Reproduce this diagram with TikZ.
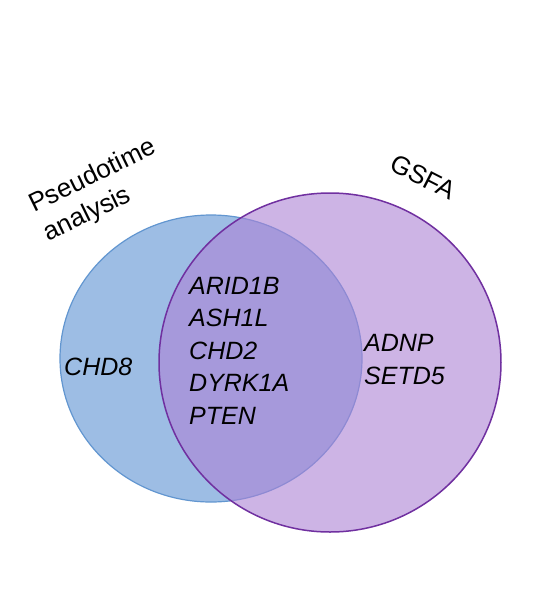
\documentclass[tikz,border=0pt]{standalone}
\usepackage{fontspec}
\setmainfont{Liberation Sans}
\definecolor{bluefill}{RGB}{157,189,228}
\definecolor{blueline}{RGB}{98,150,208}
\definecolor{purplefill}{RGB}{172,130,213}
\definecolor{purpleline}{RGB}{112,48,160}
\begin{document}
\begin{tikzpicture}[x=1pt,y=-1pt,
  gene/.style={inner sep=0pt, align=left, anchor=base west,
    font=\fontsize{25}{32.5}\selectfont\itshape},
  setlabel/.style={inner sep=0pt, align=left,
    font=\fontsize{26}{32}\selectfont}]
\useasboundingbox (0,0) rectangle (559,590);
\fill[white] (0,0) rectangle (559,590);
\path[draw=blueline, fill=bluefill, line width=1.2pt]
  (211,358.5) ellipse [x radius=151pt, y radius=143.5pt];
\path[draw=purpleline, fill=purplefill, fill opacity=0.6, line width=1.5pt]
  (330,362.5) ellipse [x radius=171pt, y radius=169.5pt];
\node[gene] (shared) at (189,424) {ARID1B\\ASH1L\\CHD2\\DYRK1A\\PTEN};
\node[gene] (left) at (64,375) {CHD8};
\node[gene] (right) at (364,384) {ADNP\\SETD5};
\node[setlabel, rotate=26] (pseudo) at (100,191) {Pseudotime\\analysis};
\node[setlabel, rotate=-27] (gsfa) at (423,177) {GSFA};
\end{tikzpicture}
\end{document}
